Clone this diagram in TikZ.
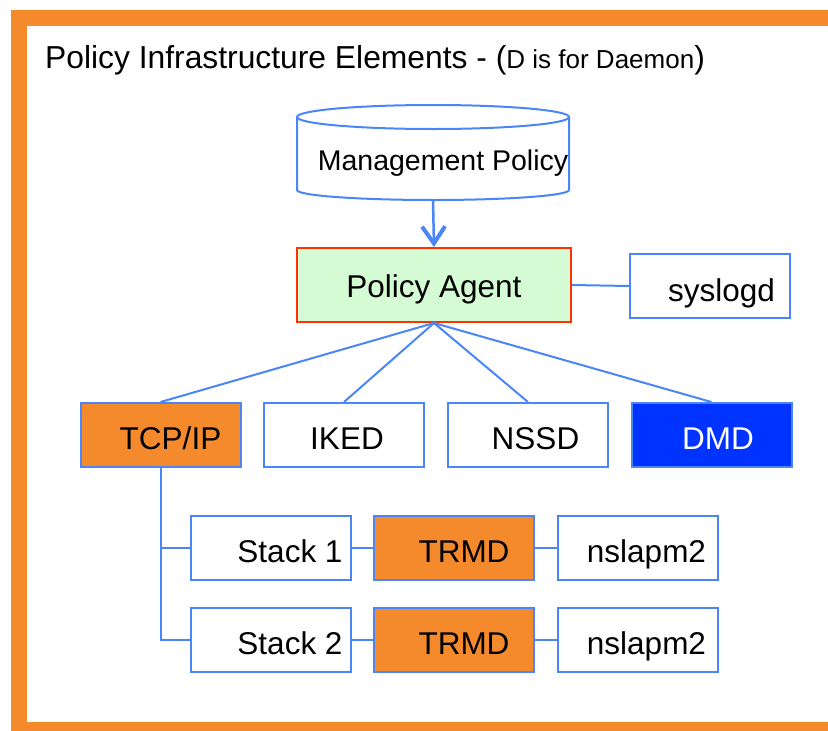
\documentclass[tikz,border=0pt]{standalone}
\usepackage{fontspec}
\setmainfont{Liberation Sans}
\usetikzlibrary{arrows.meta}
\definecolor{frameorange}{RGB}{245,138,45}
\definecolor{linkblue}{RGB}{74,134,247}
\definecolor{dmdblue}{RGB}{0,51,255}
\definecolor{agentred}{RGB}{255,51,0}
\definecolor{agentgreen}{RGB}{213,251,213}
% shift a box label to the right by half of #1
\newcommand{\rpad}[2]{\hspace*{#1}#2}

\begin{document}
\begin{tikzpicture}[x=1pt,y=-1pt,
  box/.style={draw=linkblue, line width=2pt, fill=white, minimum width=160pt,
    minimum height=64pt, inner sep=0pt, text height=29pt, text depth=0pt,
    font=\fontsize{31.5}{36}\selectfont},
  link/.style={draw=linkblue, line width=2pt},
]
\useasboundingbox (0,0) rectangle (828,731);

% orange frame
\fill[frameorange] (11,10) rectangle (828,731);
\fill[white] (27,26) rectangle (828,722);

% title
\node[anchor=base west, inner sep=0pt, font=\fontsize{31.8}{36}\selectfont] (title) at (45,68)
  {Policy Infrastructure Elements - ({\fontsize{26}{30}\selectfont D is for Daemon})};

% management policy store (cylinder)
\node[inner sep=0pt, minimum width=272pt, minimum height=95pt] (mp) at (433,152.5) {};
\fill[white] (297,117) -- (297,190) arc[start angle=180, end angle=360, x radius=136pt, y radius=10pt] -- (569,117) -- cycle;
\draw[linkblue, line width=2pt] (297,117) -- (297,190) arc[start angle=180, end angle=360, x radius=136pt, y radius=10pt] -- (569,117);
\draw[linkblue, line width=2pt, fill=white] (433,117) ellipse [x radius=136pt, y radius=12pt];
\node[anchor=base, inner sep=0pt, font=\fontsize{28.5}{34}\selectfont] (mptext) at (443,170) {Management Policy};

% policy agent and syslog
\node[box, draw=agentred, fill=agentgreen, minimum width=274pt, minimum height=74pt, text height=24pt] (pa) at (434,285) {Policy Agent};
\node[box, text height=30pt] (sl) at (710,286) {\rpad{23pt}{syslogd}};

% daemons
\node[box, fill=frameorange] (tcp) at (160.5,435) {\rpad{20pt}{TCP/IP}};
\node[box] (iked) at (344,435) {\rpad{6pt}{IKED}};
\node[box] (nssd) at (528,435) {\rpad{15pt}{NSSD}};
\node[box, fill=dmdblue, text=white] (dmd) at (711.5,435) {\rpad{13pt}{DMD}};

% stacks
\node[box] (s1) at (271,548) {\rpad{38pt}{Stack 1}};
\node[box, fill=frameorange] (t1) at (454,548) {\rpad{20pt}{TRMD}};
\node[box] (n1) at (638,548) {\rpad{17pt}{nslapm2}};
\node[box] (s2) at (271,639.5) {\rpad{38pt}{Stack 2}};
\node[box, fill=frameorange] (t2) at (454,639.5) {\rpad{20pt}{TRMD}};
\node[box] (n2) at (638,639.5) {\rpad{17pt}{nslapm2}};

% connectors
\draw[link, line width=2.5pt, -{Straight Barb[length=17pt, width=23pt, line width=4pt]}] (mp.south) -- (pa.north);
\draw[link] (pa.east) -- (sl.west);
\draw[link] (pa.south) -- (tcp.north);
\draw[link] (pa.south) -- (iked.north);
\draw[link] (pa.south) -- (nssd.north);
\draw[link] (pa.south) -- (dmd.north);
\draw[link] (tcp.south) |- (s2.west);
\draw[link] (tcp.south |- s1.west) -- (s1.west);
\draw[link] (s1.east) -- (t1.west);
\draw[link] (t1.east) -- (n1.west);
\draw[link] (s2.east) -- (t2.west);
\draw[link] (t2.east) -- (n2.west);
\end{tikzpicture}
\end{document}
